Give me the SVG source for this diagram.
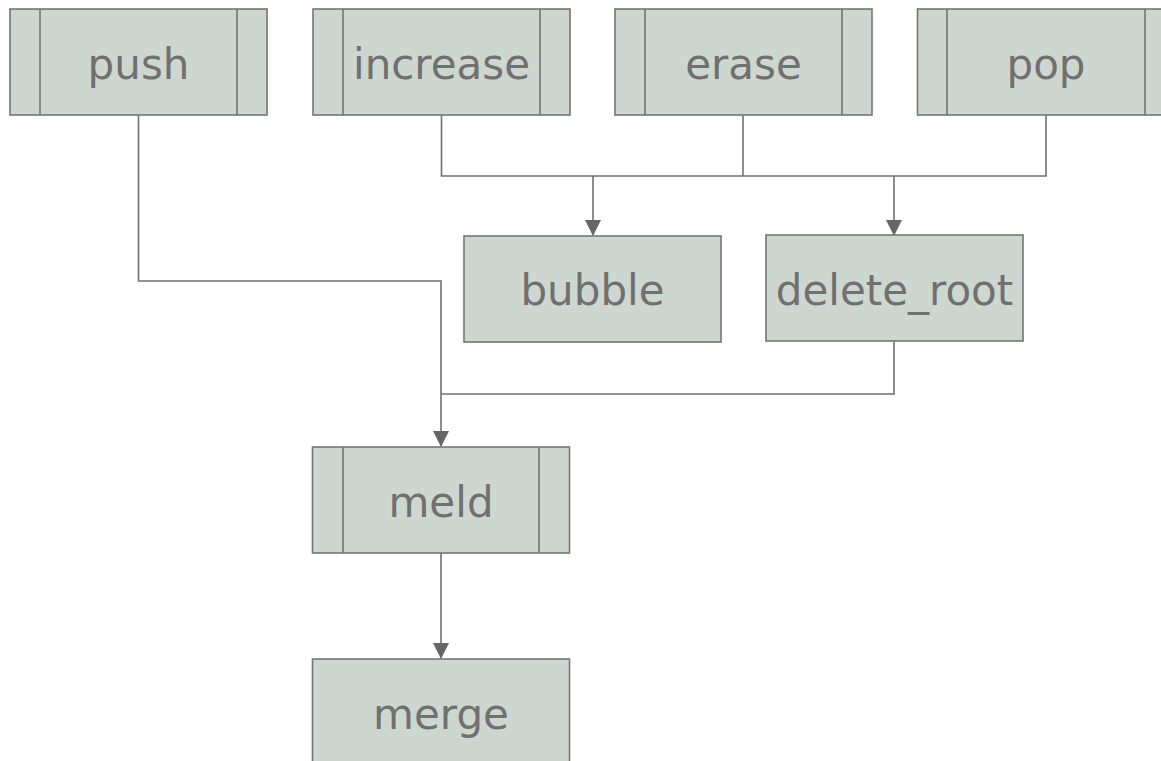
<svg xmlns="http://www.w3.org/2000/svg" width="1161" height="761" viewBox="0 0 1161 761">
<style>
.box{fill:#cdd7d0;stroke:#757575;stroke-width:1.6}
.bar{stroke:#757575;stroke-width:1.6;fill:none}
.lbl{font-family:"DejaVu Sans",Verdana,sans-serif;font-size:42px;fill:#707070;text-anchor:middle}
.edge{fill:none;stroke:#707070;stroke-width:1.6}
</style>
<defs>
<marker id="arr" markerWidth="16" markerHeight="16" refX="15" refY="8" orient="auto" markerUnits="userSpaceOnUse">
<path d="M0,0 L16,8 L0,16 Z" fill="#666666"/>
</marker>
</defs>
<rect width="1161" height="761" fill="#ffffff"/>
<g id="connectors">
<path class="edge" d="M138.5,115 V281 H441 V446" marker-end="url(#arr)"/>
<path class="edge" d="M441.5,115 V176 H1046 V115"/>
<path class="edge" d="M743,115 V176"/>
<path class="edge" d="M593,176 V235" marker-end="url(#arr)"/>
<path class="edge" d="M894,176 V235" marker-end="url(#arr)"/>
<path class="edge" d="M894,342 V394 H441"/>
<path class="edge" d="M441,553 V658" marker-end="url(#arr)"/>
</g>
<g id="push">
<rect class="box" x="10" y="9" width="257" height="106"/>
<path class="bar" d="M40,9 V115 M237,9 V115"/>
<text class="lbl" x="138.5" y="79">push</text>
</g>
<g id="increase">
<rect class="box" x="313" y="9" width="257" height="106"/>
<path class="bar" d="M343,9 V115 M540,9 V115"/>
<text class="lbl" x="441.5" y="79">increase</text>
</g>
<g id="erase">
<rect class="box" x="615" y="9" width="257" height="106"/>
<path class="bar" d="M645,9 V115 M842,9 V115"/>
<text class="lbl" x="743.5" y="79">erase</text>
</g>
<g id="pop">
<rect class="box" x="917.5" y="9" width="257" height="106"/>
<path class="bar" d="M947,9 V115 M1145,9 V115"/>
<text class="lbl" x="1046" y="79">pop</text>
</g>
<g id="bubble">
<rect class="box" x="464" y="236" width="257" height="106"/>
<text class="lbl" x="592.5" y="305">bubble</text>
</g>
<g id="delete_root">
<rect class="box" x="766" y="235" width="257" height="106"/>
<text class="lbl" x="894.5" y="305">delete_root</text>
</g>
<g id="meld">
<rect class="box" x="312.5" y="447" width="257" height="106"/>
<path class="bar" d="M343,447 V553 M539,447 V553"/>
<text class="lbl" x="441" y="517">meld</text>
</g>
<g id="merge">
<rect class="box" x="312.5" y="659" width="257" height="106"/>
<text class="lbl" x="441" y="729">merge</text>
</g>
</svg>
